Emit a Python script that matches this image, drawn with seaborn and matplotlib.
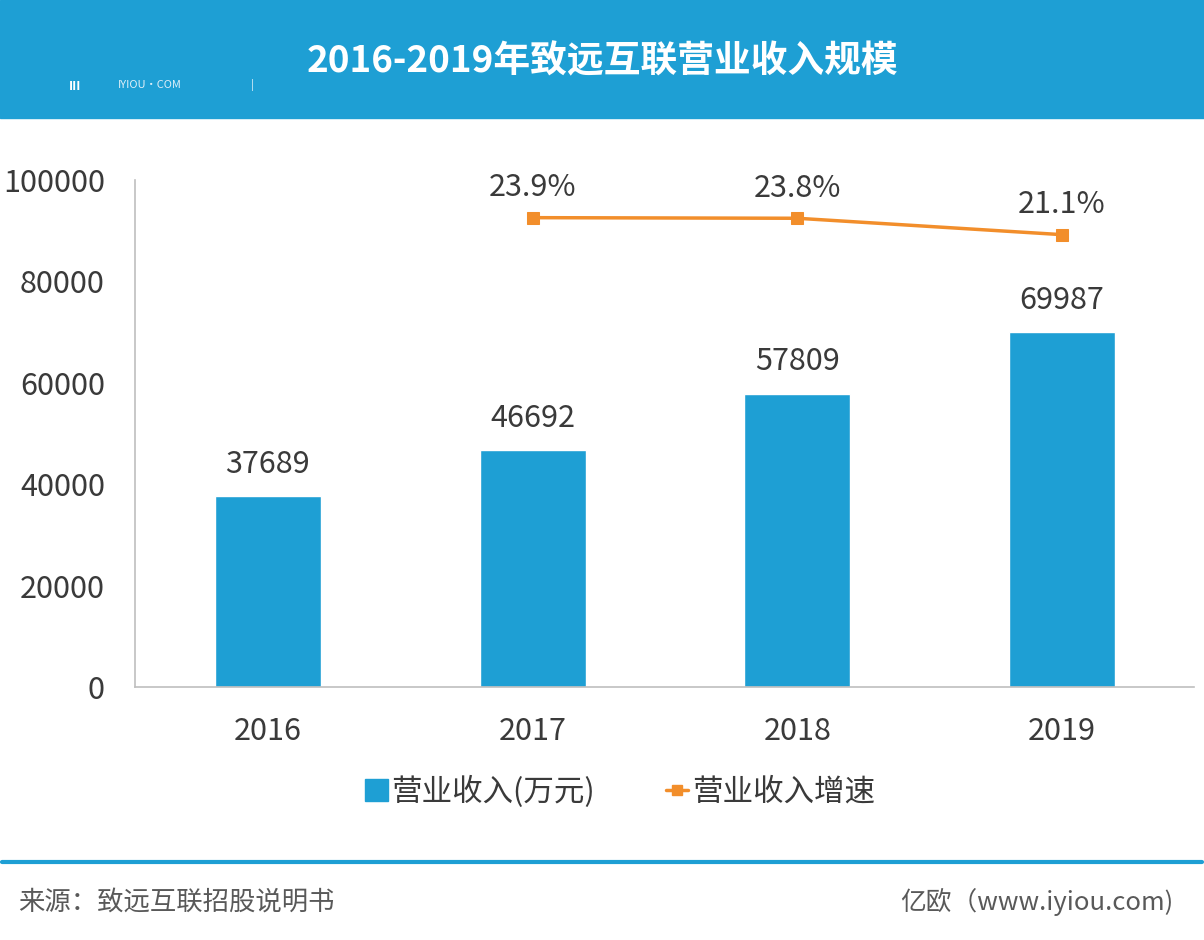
import matplotlib
matplotlib.use("Agg")
import matplotlib.pyplot as plt
import seaborn as sns
import pandas as pd
from matplotlib.patches import Rectangle
from matplotlib.lines import Line2D

years = ["2016", "2017", "2018", "2019"]
revenue = [37689, 46692, 57809, 69987]
growth_years = ["2017", "2018", "2019"]
growth = [23.9, 23.8, 21.1]
growth_labels = ["23.9%", "23.8%", "21.1%"]
yticks = [0, 20000, 40000, 60000, 80000, 100000]

sns.set_theme(style="white")
plt.rcParams['font.family'] = ['Noto Sans CJK SC', 'DejaVu Sans']

BLUE = "#1E9FD4"
ORANGE = "#F28E2B"
TXT = "#3A3A3A"
FS = 22

fig = plt.figure(figsize=(12.04, 9.4), dpi=100)
# header band
fig.patches.append(Rectangle((0, 0.8745), 1, 0.1255, transform=fig.transFigure, color=BLUE, zorder=0))
fig.text(0.5, 0.934, "2016-2019年致远互联营业收入规模", color="white", fontsize=26.5,
         fontweight="heavy", ha="center", va="center")
fig.text(0.057, 0.908, "III", color="white", fontsize=9, fontweight="bold", ha="left", va="center")
fig.text(0.098, 0.910, "IYIOU·COM", color="#dfeff8", fontsize=8, ha="left", va="center")
fig.text(0.208, 0.910, "|", color="#dfeff8", fontsize=8, ha="left", va="center")

ax = fig.add_axes([0.1125, 0.2691, 0.8796, 0.5394])
df = pd.DataFrame({"year": years, "revenue": revenue})
sns.barplot(data=df, x="year", y="revenue", color=BLUE, width=0.4, saturation=1, ax=ax)
ax.set_xlim(-0.5, 3.5)
ax.set_ylim(0, 100000)
ax.set_yticks(yticks)
ax.set_yticklabels([str(v) for v in yticks])
ax.set_xlabel("")
ax.set_ylabel("")
ax.tick_params(axis="both", length=0, labelsize=FS, colors=TXT)
ax.tick_params(axis="x", pad=21)
ax.tick_params(axis="y", pad=22)
for s in ["top", "right"]:
    ax.spines[s].set_visible(False)
for s in ["left", "bottom"]:
    ax.spines[s].set_color("#BFBFBF")
    ax.spines[s].set_linewidth(1.2)
for i, v in enumerate(revenue):
    ax.text(i, v + 6300, str(v), ha="center", va="center", fontsize=FS, color=TXT)

ax2 = ax.twinx()
gdf = pd.DataFrame({"x": [years.index(y) for y in growth_years], "g": growth})
sns.lineplot(data=gdf, x="x", y="g", color=ORANGE, marker="s", markersize=8,
             markeredgecolor=ORANGE, linewidth=2.5, ax=ax2)
ax2.set_ylim(-53.4, 30.1)
ax2.set_xlim(-0.5, 3.5)
ax2.axis("off")
for xi, g, lab in zip(gdf["x"], growth, growth_labels):
    ax2.text(xi, g + 4.9, lab, ha="center", va="center", fontsize=FS, color=TXT)

# legend
handles = [Rectangle((0, 0), 1, 1, color=BLUE),
           Line2D([0], [0], color=ORANGE, lw=2.5, marker="s", markersize=7)]
fig.legend(handles, ["营业收入(万元)", "营业收入增速"], loc="center",
           bbox_to_anchor=(0.515, 0.158), ncol=2, frameon=False, fontsize=22,
           labelcolor=TXT, handlelength=0.75, handleheight=0.75, columnspacing=2.3,
           handletextpad=0.12)

# footer
fig.add_artist(Line2D([0.002, 0.998], [0.083, 0.083], transform=fig.transFigure,
                      color=BLUE, lw=3))
fig.text(0.015, 0.040, "来源：致远互联招股说明书", fontsize=19, color="#595959",
         ha="left", va="center")
fig.text(0.975, 0.040, "亿欧（www.iyiou.com)", fontsize=18.5, color="#595959",
         ha="right", va="center")

fig.savefig("out.png", dpi=100)
